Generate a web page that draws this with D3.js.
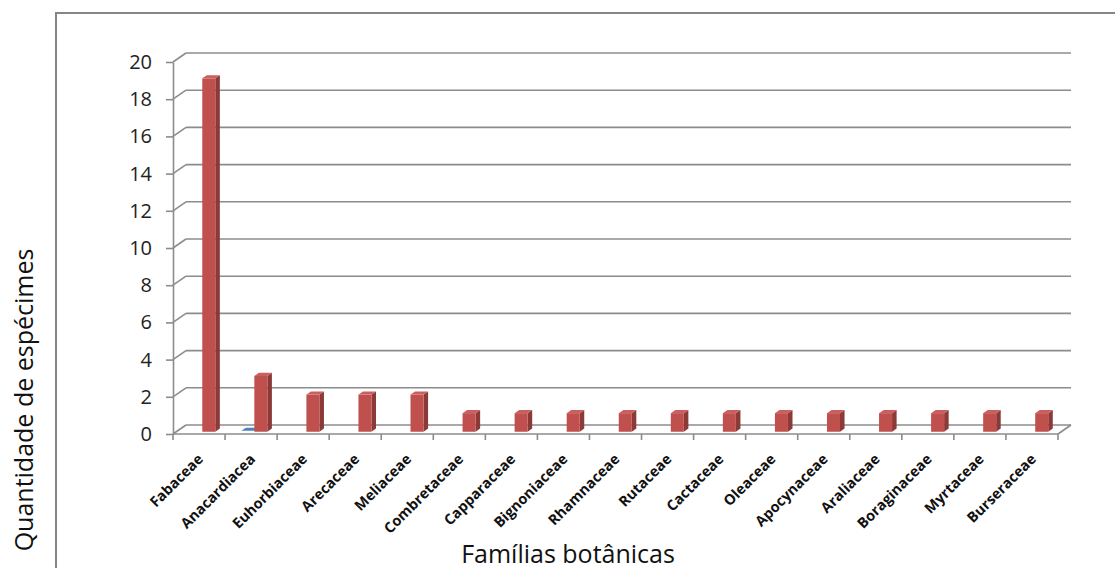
<!DOCTYPE html>
<html lang="pt-BR">
<head>
<meta charset="UTF-8">
<title>Famílias botânicas</title>
<style>
  body{margin:0;background:#fff;}
  svg{display:block;font-family:"Open Sans",sans-serif;}
  .grid line,.grid path{stroke:#8c8c8c;stroke-width:1.6;fill:none;}
  .yaxis path,.yaxis line{stroke:#8c8c8c;stroke-width:1.6;}
</style>
</head>
<body>
<script src="https://cdn.jsdelivr.net/npm/d3@7"></script>
<script>
// dados
var familias = ["Fabaceae","Anacardiacea","Euhorbiaceae","Arecaceae","Meliaceae","Combretaceae",
  "Capparaceae","Bignoniaceae","Rhamnaceae","Rutaceae","Cactaceae","Oleaceae","Apocynaceae",
  "Araliaceae","Boraginaceae","Myrtaceae","Burseraceae"];
var serieVermelha = [19,3,2,2,2,1,1,1,1,1,1,1,1,1,1,1,1];
var serieAzul = [null,0.05,null,null,null,null,null,null,null,null,null,null,null,null,null,null,null];
var yTicks = [0,2,4,6,8,10,12,14,16,18,20];

var W = 1115, H = 568;
var pL = 173, pR = 1058, pB = 434, pT = 62;
var dx = 13, dy = -9; // profundidade da parede

var svg = d3.select("body").append("svg").attr("width",W).attr("height",H);

// moldura
svg.append("rect").attr("x",56).attr("y",13).attr("width",1100).attr("height",600)
  .attr("fill","none").attr("stroke","#868686").attr("stroke-width",2);

var x = d3.scaleBand().domain(familias).range([pL,pR]);
var xs = d3.scaleBand().domain(["azul","verm"]).range([0,x.bandwidth()]).paddingOuter(1);
var y = d3.scaleLinear().domain([0,20]).range([pB,pT]);

// grades da parede + diagonais
var g = svg.append("g").attr("class","grid");
g.selectAll(".h").data(yTicks).enter().append("line")
  .attr("x1",pL+dx).attr("x2",pR+dx)
  .attr("y1",function(d){return y(d)+dy;}).attr("y2",function(d){return y(d)+dy;});
g.selectAll(".d").data(yTicks).enter().append("line")
  .attr("x1",pL).attr("x2",pL+dx)
  .attr("y1",function(d){return y(d);}).attr("y2",function(d){return y(d)+dy;});
// piso
g.append("line").attr("x1",pL).attr("x2",pR).attr("y1",y(0)).attr("y2",y(0));
g.append("line").attr("x1",pR).attr("x2",pR+dx).attr("y1",y(0)).attr("y2",y(0)+dy);
// marcas do eixo x
g.selectAll(".t").data(familias.concat([null])).enter().append("line")
  .attr("x1",function(d,i){return i<familias.length?x(d):pR;})
  .attr("x2",function(d,i){return i<familias.length?x(d):pR;})
  .attr("y1",y(0)).attr("y2",y(0)+6);

// eixo y
var yAxis = d3.axisLeft(y).tickValues(yTicks).tickSize(7).tickSizeOuter(0).tickPadding(14);
var ya = svg.append("g").attr("class","yaxis").attr("transform","translate("+pL+",0)").call(yAxis);
ya.selectAll("text").attr("font-size","20px").attr("fill","#222").attr("font-family","'Open Sans',sans-serif");

// barras 3D
var df = 0.25, db = 0.6;
function bar(cat, serie, v, cores){
  var x0 = x(cat) + xs(serie), w = xs.bandwidth();
  var fx = x0 + df*dx, fy = df*dy, bx = x0 + db*dx, by = db*dy;
  var yt = y(v), yb = y(0);
  var gb = svg.append("g");
  if(v > 0.2){
    gb.append("polygon").attr("fill",cores[1])
      .attr("points",[[fx+w,yt+fy],[bx+w,yt+by],[bx+w,yb+by],[fx+w,yb+fy]].join(" "));
    gb.append("rect").attr("fill",cores[0]).attr("x",fx).attr("y",yt+fy).attr("width",w).attr("height",yb-yt);
  }
  gb.append("polygon").attr("fill",cores[2])
    .attr("points",[[fx,yt+fy],[fx+w,yt+fy],[bx+w,yt+by],[bx,yt+by]].join(" "));
}
familias.forEach(function(c,i){
  if(serieAzul[i]!=null) bar(c,"azul",serieAzul[i],["#4F81BD","#385D8A","#4F81BD"]);
  bar(c,"verm",serieVermelha[i],["#C0504D","#8C3A38","#C9605D"]);
});

// rótulos das categorias
svg.selectAll(".lbl").data(familias).enter().append("text")
  .attr("transform",function(d){return "translate("+(x(d)+x.bandwidth()/2+5)+","+(pB+26)+") rotate(-45)";})
  .attr("text-anchor","end").attr("font-size","14.5px").attr("font-weight",700).attr("fill","#111")
  .text(function(d){return d;});

// títulos
svg.append("text").attr("x",568).attr("y",563).attr("text-anchor","middle")
  .attr("font-size","25px").attr("fill","#111").text("Famílias botânicas");
svg.append("text").attr("transform","translate(33,400) rotate(-90)").attr("text-anchor","middle")
  .attr("font-size","25px").attr("fill","#111").text("Quantidade de espécimes");
</script>
</body>
</html>
